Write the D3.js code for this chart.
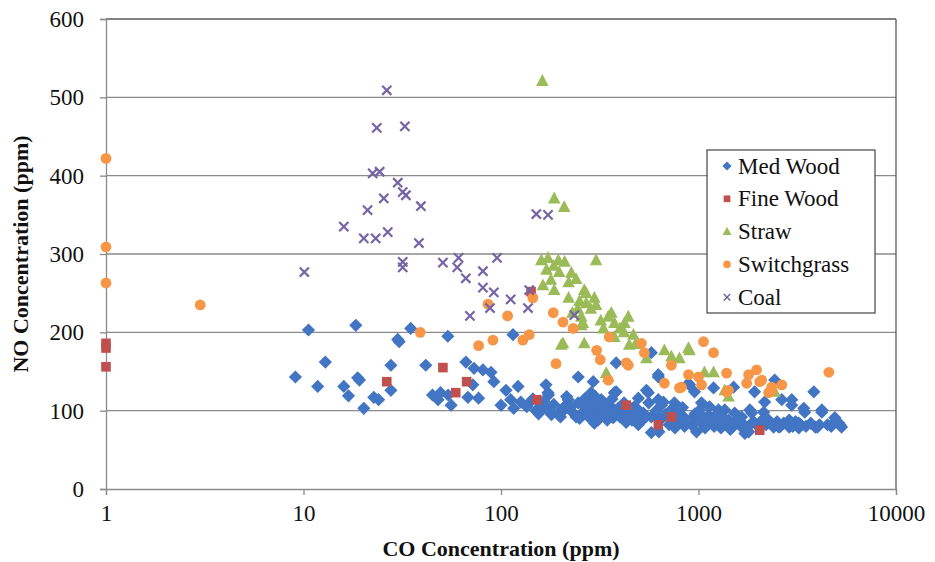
<!DOCTYPE html>
<html><head><meta charset="utf-8">
<script src="https://cdn.jsdelivr.net/npm/d3@7"></script>
<style>body{margin:0;background:#fff}svg{display:block}</style>
</head><body>
<svg id="c" width="935" height="562"></svg>
<script>
const xTicks=[1,10,100,1000,10000];
const yTicks=[0,100,200,300,400,500,600];
const seriesNames=["Med Wood","Fine Wood","Straw","Switchgrass","Coal"];
const medWood=[[9.1,143],[10.6,203],[12.9,162],[11.8,131],[16,131],[16.9,119],[18.4,209],[18.8,142],[19.2,139],[20.2,103],[22.7,117],[24,114],[27.7,158],[27.7,126],[30,191],[30.5,188],[34.9,205],[41.6,158],[45,120],[49.4,123],[54,120],[48,114],[53.8,195],[55.9,107],[66.4,162],[68,117],[73,154],[72,133],[77,116],[81,152],[89,149],[92,137],[100,107],[106,126],[112,114],[116,103],[115,197],[122,131],[126,111],[139,110],[169,133],[173,123],[174,120],[169,103],[195,97],[209,105],[209,101],[219,114],[246,143],[246,110],[260,107],[260,98],[286,123],[290,97],[293,137],[297,105],[297,84],[297,86],[310,88],[322,114],[333,97],[353,107],[353,92],[370,91],[375,123],[383,124],[383,161],[392,103],[473,105],[496,116],[496,82],[526,97],[545,126],[557,123],[577,92],[577,72],[577,174],[626,146],[626,143],[626,114],[630,73],[649,107],[664,111],[710,82],[755,110],[776,86],[801,101],[820,88],[849,91],[890,135],[900,133],[944,92],[955,124],[977,73],[1015,101],[1036,110],[1036,84],[1110,84],[1125,94],[1138,105],[1192,129],[1263,101],[1263,86],[1309,92],[1358,101],[1387,84],[1419,88],[1506,130],[1524,97],[1652,79],[1652,92],[1718,71],[1795,73],[1820,101],[1858,97],[1858,84],[1923,124],[2138,98],[2163,111],[2266,88],[2400,79],[2432,139],[2550,79],[2640,114],[2880,79],[2880,88],[2965,107],[2965,114],[3220,84],[3220,78],[3412,103],[3451,98],[3838,124],[3900,79],[4000,79],[4211,98],[4211,101],[4900,91],[5000,86],[5140,84],[5300,79],
[150,100],[160,108],[180,95],[230,98],[240,92],[270,100],[280,112],[305,95],[315,108],[340,102],[360,98],[400,92],[420,110],[440,96],[460,88],[520,88],[600,95],[680,95],[720,100],[760,78],[850,80],[920,82],[1080,78],[1200,80],[1300,78],[1450,76],[1550,84],[2000,80],[2200,82],[2700,84],[3000,80],[3500,80],[4500,82],[4700,80],
[135,105],[145,115],[155,96],[165,112],[185,108],[200,92],[215,118],[225,104],[250,90],[265,115],[275,93],[300,118],[320,92],[330,110],[345,88],[365,115],[380,100],[410,98],[430,85],[450,104],[480,95],[500,100],[540,92],[560,110],[610,100],[640,88],[700,92],[740,84],[790,95],[830,104],[870,84],[960,96],[1000,88],[1050,92],[1150,88],[1230,95],[1350,90],[1500,84],[1600,88],[1700,82],[1900,86],[2100,88],[2300,84],[2500,86],[2600,80],[3100,86],[3300,82],[3700,84],[4100,82],[4800,84],[5200,82]];
const fineWood=[[1,186],[1,180],[1,156],[26.4,137],[50.8,155],[67,137],[59,123],[152,114],[142,252],[431,107],[729,92],[626,82],[2042,75]];
const straw=[[162,521],[186,371],[209,360],[160,292],[173,295],[195,292],[303,292],[197,277],[227,276],[220,264],[163,260],[179,267],[186,254],[264,254],[297,244],[270,237],[303,235],[220,244],[270,250],[255,220],[260,212],[255,209],[349,220],[362,225],[441,220],[375,212],[422,212],[468,197],[202,184],[206,186],[264,186],[446,184],[375,194],[545,167],[672,177],[729,169],[801,167],[900,177],[890,180],[1072,149],[1192,149],[341,148],[349,143],[1358,126],[1419,118],[2432,124],
[170,280],[185,285],[210,290],[240,268],[250,240],[285,230],[320,215],[330,205],[400,205],[420,200],[480,185],[230,225],[245,230]];
const switchgrass=[[1,422],[1,309],[1,263],[3,235],[39,200],[77,183],[91,190],[86,236],[108,221],[129,190],[139,197],[145,244],[184,225],[206,213],[232,205],[190,160],[305,177],[318,165],[353,194],[431,161],[441,158],[514,186],[532,174],[349,139],[672,135],[729,158],[801,129],[820,130],[890,146],[1036,133],[1000,143],[1060,188],[1192,174],[1387,148],[1387,124],[1419,126],[1795,146],[1968,152],[1754,135],[2042,137],[2089,139],[2348,130],[2348,126],[2640,133],[2266,123],[4571,149]];
const coal=[[26.4,509],[23.5,461],[32.6,463],[22.4,403],[24.3,405],[30,391],[31.8,379],[33,375],[25.5,371],[39.3,361],[21.1,356],[16,335],[20.2,320],[23.2,320],[26.7,328],[38.4,314],[10.1,277],[31.8,290],[31.8,283],[50.8,289],[61,295],[60,283],[66.4,269],[95.5,295],[81,278],[81,257],[92,251],[112,242],[137,231],[88,231],[69.6,221],[151,351],[173,350],[139,254],[235,222]];
const colors=["#4275C3","#C0504D","#9BBB59","#F79646","#7565A6"];
const FONT='"Liberation Serif","DejaVu Serif",serif';

const svg=d3.select("#c");
const L=106,R=896,T=19,B=489;
const x=d3.scaleLog().domain([1,10000]).range([L,R]);
const y=d3.scaleLinear().domain([0,600]).range([B,T]);

svg.append("g").selectAll("line").data(yTicks.filter(d=>d>0)).join("line")
 .attr("x1",L).attr("x2",R).attr("y1",d=>y(d)).attr("y2",d=>y(d))
 .attr("stroke",d=>d===600?"#5a5a5a":"#8a8a8a").attr("stroke-width",1.3);
svg.append("line").attr("x1",R).attr("x2",R).attr("y1",T).attr("y2",B).attr("stroke","#5a5a5a").attr("stroke-width",1.3);

const xa=svg.append("g").attr("transform",`translate(0,${B})`)
 .call(d3.axisBottom(x).tickValues(xTicks).tickFormat(d3.format("d")).tickSize(6).tickPadding(10));
const ya=svg.append("g").attr("transform",`translate(${L},0)`)
 .call(d3.axisLeft(y).tickValues(yTicks).tickSize(6).tickPadding(16));
[xa,ya].forEach(a=>{a.attr("font-family",FONT).attr("font-size",23);
 a.select(".domain").attr("stroke","#8a8a8a").attr("stroke-width",1.3);
 a.selectAll(".tick line").attr("stroke","#8a8a8a").attr("stroke-width",1.3);
 a.selectAll("text").style("font-family",FONT).style("font-size","23px").attr("fill","#111");});

svg.append("text").attr("x",(L+R)/2).attr("y",556).attr("text-anchor","middle")
 .style("font-family",FONT).style("font-weight","bold").style("font-size","22px").attr("fill","#111")
 .text("CO Concentration (ppm)");
svg.append("text").attr("transform",`translate(28,${(T+B)/2}) rotate(-90)`).attr("text-anchor","middle")
 .style("font-family",FONT).style("font-weight","bold").style("font-size","22px").attr("fill","#111")
 .text("NO Concentration (ppm)");

function marker(g,i,cx,cy,s){
 const c=colors[i];
 if(i===0){const h=6.6*s;g.append("path").attr("d",`M${cx},${cy-h}L${cx+h},${cy}L${cx},${cy+h}L${cx-h},${cy}Z`).attr("fill",c);}
 else if(i===1){g.append("rect").attr("x",cx-4.8*s).attr("y",cy-4.8*s).attr("width",9.6*s).attr("height",9.6*s).attr("fill",c);}
 else if(i===2){g.append("path").attr("d",`M${cx},${cy-6.8*s}L${cx+6.3*s},${cy+5*s}L${cx-6.3*s},${cy+5*s}Z`).attr("fill",c);}
 else if(i===3){g.append("circle").attr("cx",cx).attr("cy",cy).attr("r",5.4*s).attr("fill",c);}
 else {const r=4.6*s;g.append("path").attr("d",`M${cx-r},${cy-r}L${cx+r},${cy+r}M${cx-r},${cy+r}L${cx+r},${cy-r}`).attr("stroke",c).attr("stroke-width",2.2*s).attr("fill","none");}
}
const all=[medWood,fineWood,straw,switchgrass,coal];
const pg=svg.append("g");
all.forEach((arr,i)=>{const g=pg.append("g");arr.forEach(d=>marker(g,i,x(d[0]),y(d[1]),1));});

const lg=svg.append("g");
lg.append("rect").attr("x",707).attr("y",150).attr("width",168).attr("height",163).attr("fill","#fff").attr("stroke","#444").attr("stroke-width",1.2);
seriesNames.forEach((n,i)=>{const cy=166+i*32.8;
 marker(lg,i,727,cy,0.7);
 lg.append("text").attr("x",738).attr("y",cy+7.5).style("font-family",FONT).style("font-size","23px").attr("fill","#111").text(n);});
</script>
</body></html>
